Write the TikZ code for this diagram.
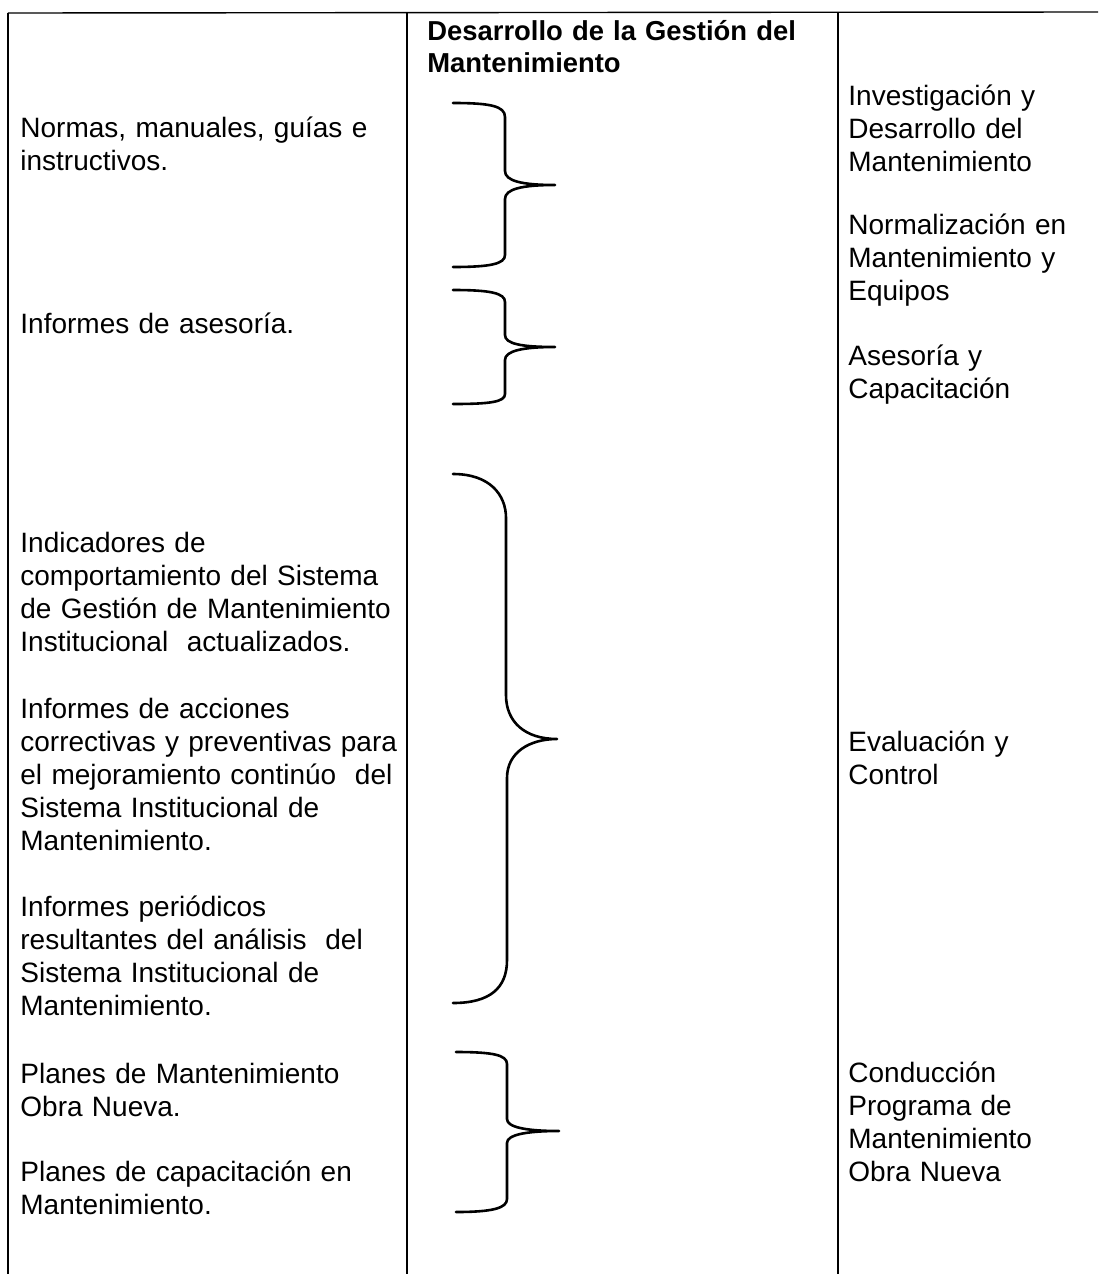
\documentclass[tikz,border=0pt]{standalone}
\usepackage{fontspec}
\setmainfont{Liberation Sans}
\begin{document}
\begin{tikzpicture}[x=0.5pt,y=-0.5pt,
  txt/.style={anchor=base west, inner sep=0pt, text width=200pt, align=left,
    font=\fontsize{14}{16.5}\selectfont},
  hdr/.style={txt, font=\fontsize{13.7}{16}\selectfont\bfseries},
  rule/.style={line width=0.7pt},
  brace/.style={line width=1.3pt, line cap=round, line join=round}]
\useasboundingbox (0,0) rectangle (1098,1274);
% table rules
\draw[rule] (8,13) -- (1098,12);
\draw[rule, line width=0.9pt] (8,13) -- (8,1274);
\draw[rule] (407,13) -- (407,1274);
\draw[rule] (838,13) -- (838,1274);
% header
\node[hdr] (hd) at (427,40) {Desarrollo de la Gestión del\\Mantenimiento};
% left column
\node[txt] (l1) at (20,137) {Normas, manuales, guías e\\instructivos.};
\node[txt] (l2) at (20,333) {Informes de asesoría.};
\node[txt] (l3) at (20,552) {Indicadores de\\comportamiento del Sistema\\de Gestión de Mantenimiento\\Institucional\ \ actualizados.};
\node[txt] (l4) at (20,718) {Informes de acciones\\correctivas y preventivas para\\el mejoramiento continúo\ \ del\\Sistema Institucional de\\Mantenimiento.};
\node[txt] (l5) at (20,916) {Informes periódicos\\resultantes del análisis\ \ del\\Sistema Institucional de\\Mantenimiento.};
\node[txt] (l6) at (20,1083) {Planes de Mantenimiento\\Obra Nueva.};
\node[txt] (l7) at (20,1181) {Planes de capacitación en\\Mantenimiento.};
% right column
\node[txt] (r1) at (848,105) {Investigación y\\Desarrollo del\\Mantenimiento};
\node[txt] (r2) at (848,234) {Normalización en\\Mantenimiento y\\Equipos};
\node[txt] (r3) at (848,365) {Asesoría y\\Capacitación};
\node[txt] (r4) at (848,751) {Evaluación y\\Control};
\node[txt] (r5) at (848,1082) {Conducción\\Programa de\\Mantenimiento\\Obra Nueva};
% braces
\draw[brace] (453,103) .. controls (490,103) and (505,106) .. (505,117) -- (505,171)
  .. controls (505,181) and (522,185) .. (555,185)
  .. controls (522,185) and (505,189) .. (505,199) -- (505,255)
  .. controls (505,264) and (490,267) .. (453,267);
\draw[brace] (453,290) .. controls (490,290) and (505,293) .. (505,302) -- (505,335)
  .. controls (505,344) and (522,347) .. (555,347)
  .. controls (522,347) and (505,351) .. (505,360) -- (505,394)
  .. controls (505,402) and (490,404) .. (453,404);
\draw[brace] (453,474) .. controls (490,474) and (506,495) .. (506,518) -- (506,695)
  .. controls (506,722) and (525,739) .. (557,739)
  .. controls (530,739) and (507,752) .. (507,778) -- (507,960)
  .. controls (507,988) and (490,1003) .. (453,1003);
\draw[brace] (456,1052) .. controls (493,1052) and (507,1055) .. (507,1064) -- (507,1119)
  .. controls (507,1127) and (525,1131) .. (559,1131)
  .. controls (525,1131) and (507,1135) .. (507,1143) -- (507,1199)
  .. controls (507,1208) and (493,1212) .. (456,1212);
\end{tikzpicture}
\end{document}
